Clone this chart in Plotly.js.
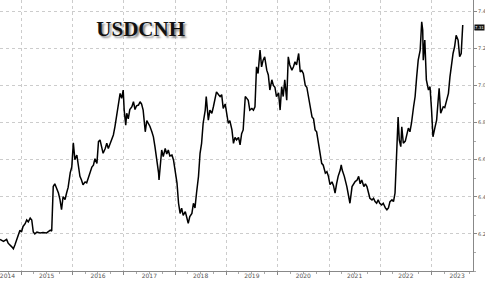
<!DOCTYPE html>
<html><head><meta charset="utf-8">
<script src="https://cdn.plot.ly/plotly-3.0.1.min.js"></script>
<style>html,body{margin:0;padding:0;background:#fff;}#chart{width:485px;height:286px;}</style>
</head><body><div id="chart"></div>
<script>
// decimal years
const years = [
2014.59,2014.66,2014.72,2014.75,2014.82,2014.85,2014.88,2014.92,2014.95,2014.98,
2015.01,2015.04,2015.08,2015.11,2015.14,2015.18,2015.21,2015.24,2015.27,2015.31,
2015.37,2015.43,2015.50,2015.57,2015.60,2015.62,2015.63,2015.66,2015.70,2015.73,
2015.76,2015.79,2015.82,2015.86,2015.89,2015.92,2015.96,2015.99,2016.02,2016.05,
2016.09,2016.12,2016.15,2016.18,2016.21,2016.25,2016.28,2016.31,2016.35,2016.38,
2016.41,2016.44,2016.48,2016.51,2016.54,2016.57,2016.60,2016.64,2016.67,2016.70,
2016.73,2016.77,2016.80,2016.83,2016.86,2016.90,2016.93,2016.96,2016.99,2017.01,
2017.04,2017.06,2017.09,2017.12,2017.16,2017.19,2017.22,2017.25,2017.29,2017.32,
2017.35,2017.38,2017.42,2017.45,2017.48,2017.51,2017.55,2017.58,2017.61,2017.65,
2017.68,2017.69,2017.71,2017.74,2017.77,2017.81,2017.84,2017.87,2017.90,2017.94,
2017.97,2018.00,2018.04,2018.07,2018.10,2018.13,2018.16,2018.20,2018.23,2018.26,
2018.29,2018.33,2018.36,2018.39,2018.42,2018.46,2018.49,2018.52,2018.55,2018.59,
2018.61,2018.63,2018.65,2018.68,2018.72,2018.75,2018.78,2018.81,2018.85,2018.88,
2018.91,2018.94,2018.98,2019.01,2019.04,2019.07,2019.11,2019.14,2019.17,2019.20,
2019.24,2019.27,2019.30,2019.33,2019.37,2019.40,2019.43,2019.46,2019.50,2019.53,
2019.56,2019.59,2019.62,2019.66,2019.69,2019.72,2019.75,2019.79,2019.82,2019.85,
2019.89,2019.92,2019.95,2019.98,2020.02,2020.05,2020.08,2020.11,2020.14,2020.18,
2020.21,2020.24,2020.28,2020.31,2020.34,2020.37,2020.41,2020.44,2020.47,2020.50,
2020.54,2020.57,2020.60,2020.63,2020.67,2020.70,2020.73,2020.76,2020.80,2020.83,
2020.86,2020.89,2020.93,2020.96,2020.99,2021.02,2021.06,2021.09,2021.12,2021.15,
2021.18,2021.22,2021.24,2021.26,2021.30,2021.35,2021.38,2021.41,2021.45,2021.48,
2021.51,2021.55,2021.58,2021.61,2021.64,2021.68,2021.71,2021.74,2021.77,2021.80,
2021.84,2021.87,2021.90,2021.93,2021.96,2021.99,2022.03,2022.06,2022.10,2022.13,
2022.16,2022.19,2022.23,2022.26,2022.29,2022.31,2022.34,2022.35,2022.37,2022.40,
2022.42,2022.45,2022.49,2022.52,2022.55,2022.58,2022.61,2022.65,2022.68,2022.71,
2022.74,2022.78,2022.81,2022.83,2022.84,2022.87,2022.89,2022.90,2022.94,2022.97,
2023.00,2023.03,2023.07,2023.10,2023.13,2023.15,2023.18,2023.21,2023.23,2023.26,
2023.29,2023.33,2023.36,2023.39,2023.42,2023.45,2023.48,2023.52,2023.55,2023.58,
2023.60,2023.61
];
const usdcnh = [
6.170,6.160,6.170,6.150,6.130,6.120,6.140,6.170,6.195,6.220,
6.210,6.240,6.255,6.275,6.265,6.285,6.275,6.210,6.200,6.210,
6.205,6.207,6.205,6.220,6.215,6.370,6.455,6.470,6.440,6.420,
6.385,6.330,6.400,6.385,6.420,6.450,6.530,6.560,6.690,6.600,
6.625,6.560,6.510,6.490,6.465,6.480,6.475,6.500,6.530,6.560,
6.570,6.605,6.580,6.697,6.706,6.670,6.634,6.660,6.688,6.660,
6.680,6.706,6.733,6.777,6.830,6.920,6.957,6.930,6.975,6.867,
6.786,6.850,6.820,6.870,6.885,6.912,6.870,6.890,6.894,6.912,
6.900,6.867,6.750,6.810,6.796,6.780,6.750,6.723,6.670,6.598,
6.527,6.490,6.570,6.652,6.616,6.660,6.630,6.652,6.620,6.625,
6.598,6.544,6.473,6.365,6.310,6.338,6.300,6.320,6.293,6.257,
6.293,6.310,6.365,6.340,6.420,6.510,6.634,6.688,6.796,6.867,
6.940,6.885,6.813,6.867,6.850,6.885,6.920,6.965,6.950,6.940,
6.950,6.876,6.900,6.858,6.796,6.810,6.760,6.688,6.720,6.706,
6.720,6.679,6.740,6.760,6.940,6.930,6.920,6.867,6.876,6.867,
6.885,7.100,7.064,7.190,7.100,7.136,7.154,7.082,7.056,6.975,
7.030,7.000,6.990,6.940,6.960,6.867,6.993,6.940,7.030,6.920,
7.154,7.110,7.082,7.100,7.127,7.110,7.172,7.073,7.080,7.064,
7.000,6.990,6.940,6.903,6.830,6.820,6.760,6.750,6.688,6.634,
6.580,6.570,6.527,6.535,6.510,6.465,6.480,6.460,6.420,6.470,
6.510,6.544,6.571,6.544,6.510,6.455,6.400,6.365,6.455,6.470,
6.482,6.490,6.510,6.470,6.490,6.455,6.470,6.455,6.420,6.392,
6.383,6.392,6.374,6.365,6.383,6.365,6.356,6.365,6.340,6.330,
6.340,6.374,6.383,6.374,6.420,6.598,6.777,6.830,6.706,6.670,
6.777,6.688,6.700,6.742,6.770,6.750,6.796,6.885,6.940,7.046,
7.136,7.190,7.343,7.298,7.136,7.244,7.100,7.030,6.975,6.993,
6.867,6.723,6.777,6.813,6.920,6.984,6.850,6.870,6.885,6.880,
6.920,6.957,7.046,7.118,7.172,7.208,7.270,7.244,7.154,7.172,
7.298,7.325
];
const yearBoundaries = ['2015-01-01','2016-01-01','2017-01-01','2018-01-01','2019-01-01','2020-01-01','2021-01-01','2022-01-01','2023-01-01'];
const yearLabelPos = ['2014-09-26','2015-07-02','2016-07-02','2017-07-02','2018-07-02','2019-07-02','2020-07-02','2021-07-02','2022-07-02','2023-07-02'];
const yearLabels = ['2014','2015','2016','2017','2018','2019','2020','2021','2022','2023'];
const yTicks = [6.2,6.4,6.6,6.8,7.0,7.2,7.4];
const lastValue = 7.31;

function toDate(t){
  const y=Math.floor(t);
  const s=Date.UTC(y,0,1), e=Date.UTC(y+1,0,1);
  return new Date(s+(t-y)*(e-s)).toISOString().slice(0,10);
}
const dates = years.map(toDate);
const xRange = ['2014-08-04','2023-10-23'];

const traces = [
  {x:dates, y:usdcnh, type:'scatter', mode:'lines', line:{color:'#000', width:1.5}, hoverinfo:'skip', showlegend:false},
  {x:[dates[0]], y:[usdcnh[0]], xaxis:'x2', type:'scatter', mode:'markers', marker:{opacity:0}, showlegend:false, hoverinfo:'skip'}
];

const layout = {
  width:485, height:286,
  margin:{l:0, r:12, t:0, b:15, pad:0},
  paper_bgcolor:'#fff', plot_bgcolor:'#fff',
  showlegend:false,
  title:{text:'<b>USDCNH</b>', x:0.29, xanchor:'center', y:0.90, yanchor:'middle',
         font:{family:'Liberation Serif, Times New Roman, serif', size:21, color:'#111', shadow:'2px 2px 2px #888'}},
  xaxis:{type:'date', range:xRange, tickvals:yearBoundaries, showticklabels:false,
         showgrid:true, gridcolor:'#cccccc', griddash:'dot', gridwidth:1,
         showline:true, linecolor:'#888', linewidth:1, ticks:'outside', ticklen:3, tickcolor:'#888',
         minor:{dtick:'M3', ticks:'outside', ticklen:2, tickcolor:'#aaa', showgrid:false},
         zeroline:false, fixedrange:true},
  xaxis2:{type:'date', overlaying:'x', side:'bottom', range:xRange, tickvals:yearLabelPos, ticktext:yearLabels,
          showgrid:false, showline:false, ticks:'', ticklabeloverflow:'allow',
          tickfont:{family:'DejaVu Sans, sans-serif', size:6, color:'#555'},
          zeroline:false, fixedrange:true, anchor:'y'},
  yaxis:{side:'right', range:[6.0,7.46], tickvals:yTicks, tickformat:'.1f',
         showgrid:true, gridcolor:'#cccccc', griddash:'dot', gridwidth:1,
         showline:true, linecolor:'#888', linewidth:1, ticks:'outside', ticklen:3, tickcolor:'#888',
         minor:{dtick:0.1, ticks:'outside', ticklen:2, tickcolor:'#aaa', showgrid:false},
         tickfont:{family:'DejaVu Sans, sans-serif', size:5, color:'#555'},
         zeroline:false, fixedrange:true},
  annotations:[
    {xref:'paper', yref:'y', x:1, y:lastValue, xanchor:'left', yanchor:'middle', xshift:1,
     text:lastValue.toFixed(2), showarrow:false, bgcolor:'#111', borderpad:0,
     font:{family:'DejaVu Sans, sans-serif', size:4, color:'#fff'}}
  ]
};
Plotly.newPlot('chart', traces, layout, {staticPlot:true, displayModeBar:false});
</script>
</body></html>
